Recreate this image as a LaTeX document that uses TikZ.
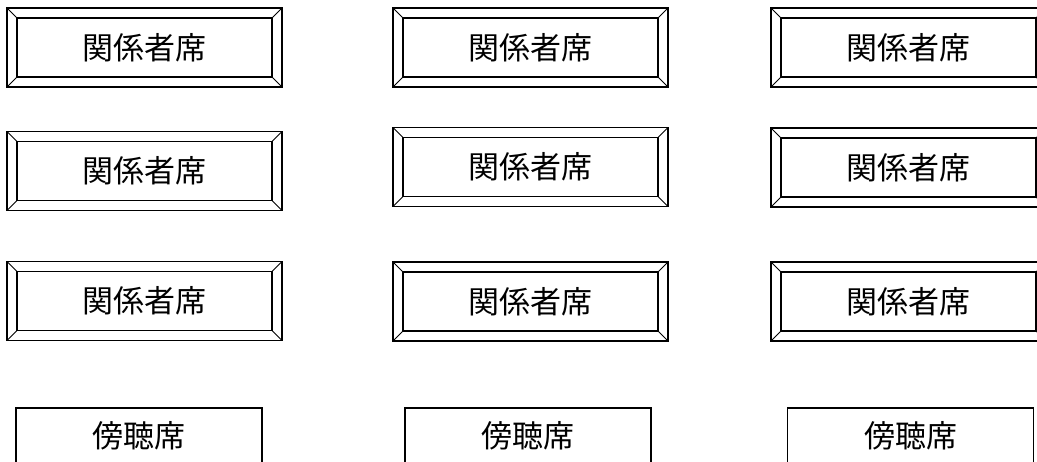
\documentclass[tikz,border=0pt]{standalone}
\usepackage{fontspec}
\newfontfamily\jpfont{Noto Sans CJK JP}
\usepackage{tikz}

\tikzset{
    seat/.style={draw, line width=1.2pt, minimum width=275pt, minimum height=79pt,
        inner sep=0pt, font=\jpfont\fontsize{31}{33}\selectfont,
        path picture={
            \draw[line width=1.2pt]
                ([shift={(10pt,10pt)}]path picture bounding box.south west)
                rectangle ([shift={(-10pt,-10pt)}]path picture bounding box.north east);
            \draw[line width=0.8pt] (path picture bounding box.south west) -- ++(10pt,10pt);
            \draw[line width=0.8pt] (path picture bounding box.south east) -- ++(-10pt,10pt);
            \draw[line width=0.8pt] (path picture bounding box.north west) -- ++(10pt,-10pt);
            \draw[line width=0.8pt] (path picture bounding box.north east) -- ++(-10pt,-10pt);
        }},
    gallery/.style={draw, line width=1.2pt, minimum width=246pt, minimum height=56pt,
        inner sep=0pt, font=\jpfont\fontsize{31}{33}\selectfont}
}

\begin{document}
\begin{tikzpicture}[x=1pt, y=-1pt]

    \useasboundingbox (0,0) rectangle (1037,462);
    \clip (0,0) rectangle (1037,462);

    % row 1
    \node[seat] (seat-1-1) at (144.5,47.5) {関係者席};
    \node[seat] (seat-1-2) at (530.5,47.5) {関係者席};
    \node[seat] (seat-1-3) at (908.5,47.5) {関係者席};

    % row 2
    \node[seat] (seat-2-1) at (144.5,171) {関係者席};
    \node[seat] (seat-2-2) at (530.5,167) {関係者席};
    \node[seat] (seat-2-3) at (908.5,167.5) {関係者席};

    % row 3
    \node[seat] (seat-3-1) at (144.5,301) {関係者席};
    \node[seat] (seat-3-2) at (530.5,301.5) {関係者席};
    \node[seat] (seat-3-3) at (908.5,301.5) {関係者席};

    % public gallery
    \node[gallery] (gallery-1) at (139,436) {傍聴席};
    \node[gallery] (gallery-2) at (528,436) {傍聴席};
    \node[gallery] (gallery-3) at (910.5,436) {傍聴席};
\end{tikzpicture}
\end{document}
